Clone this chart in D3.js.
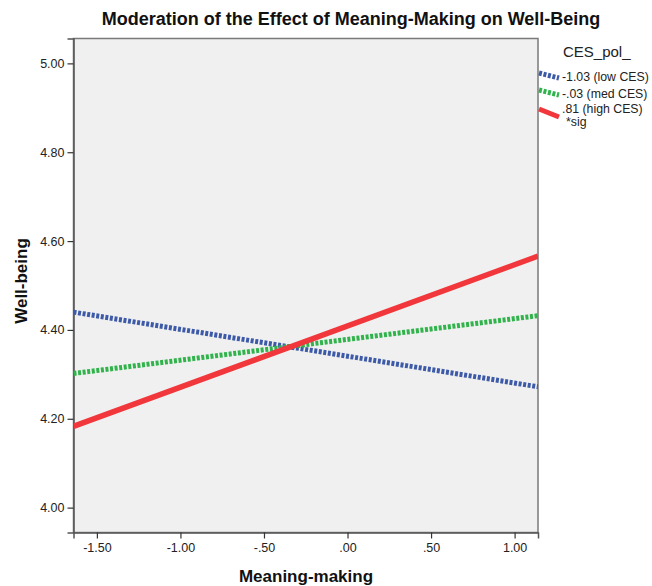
<!DOCTYPE html>
<html><head><meta charset="utf-8">
<script src="https://cdn.jsdelivr.net/npm/d3@7"></script>
<style>body{margin:0;background:#fff;font-family:"Liberation Sans",Arial,sans-serif;}</style>
</head><body>
<svg id="c" width="652" height="586"></svg>
<script>
const seriesNames = ["-1.03 (low CES)", "-.03 (med CES)", ".81 (high CES)"];
const xRange = [-1.64, 1.14];
const lowCES = [4.44, 4.272];
const medCES = [4.302, 4.432];
const highCES = [4.183, 4.566];
const xTicks = [-1.5, -1.0, -0.5, 0, 0.5, 1.0];
const yTicks = [4.0, 4.2, 4.4, 4.6, 4.8, 5.0];
const colors = ["#3d5aa8", "#2fb34a", "#f1373b"];
const dashes = ["3,1.6", "3,1.6", null];

const svg = d3.select("#c");
const L = 73.5, R = 538, T = 38.5, B = 532.5;
const x = d3.scaleLinear().domain([-1.64, 1.14]).range([L, R]);
const y = d3.scaleLinear().domain([3.944, 5.056]).range([B, T]);

svg.append("rect").attr("x", L).attr("y", T).attr("width", R - L).attr("height", B - T)
  .attr("fill", "#f0f0f0").attr("stroke", "#7a7a7a").attr("stroke-width", 1.5);

const fmt = v => { let s = Math.abs(v).toFixed(2); if (s.startsWith("0")) s = s.slice(1); return (v < 0 ? "-" : "") + s; };

const xa = svg.append("g").attr("transform", `translate(0,${B})`)
  .call(d3.axisBottom(x).tickValues(xTicks).tickFormat(fmt).tickSize(6).tickPadding(5));
const ya = svg.append("g").attr("transform", `translate(${L},0)`)
  .call(d3.axisLeft(y).tickValues(yTicks).tickFormat(fmt).tickSize(6).tickPadding(3));
[xa, ya].forEach(a => {
  a.select(".domain").attr("stroke", "#555").attr("stroke-width", 1.5);
  a.selectAll(".tick line").attr("stroke", "#333").attr("stroke-width", 1.2);
  a.selectAll(".tick text").attr("fill", "#222").style("font-size", "12.5px").style("font-family", "Liberation Sans, Arial, sans-serif");
});

const data = [lowCES, medCES, highCES];
svg.append("clipPath").attr("id", "pc").append("rect")
  .attr("x", L).attr("y", T).attr("width", R - L).attr("height", B - T);
const line = d3.line().x(d => x(d[0])).y(d => y(d[1]));
const g = svg.append("g").attr("clip-path", "url(#pc)");
data.forEach((vals, i) => {
  const pts = xRange.map((xv, j) => [xv, vals[j]]);
  g.append("path").attr("d", line(pts)).attr("fill", "none")
    .attr("stroke", colors[i]).attr("stroke-width", i === 2 ? 5.5 : 5)
    .attr("stroke-dasharray", dashes[i]);
});

// legend
svg.append("text").attr("x", 563).attr("y", 57).text("CES_pol_")
  .style("font-size", "15px").attr("fill", "#222");
const legY = [73, 90, 109];
const labY = [81, 98, 113];
seriesNames.forEach((n, i) => {
  svg.append("line").attr("x1", 539).attr("y1", legY[i]).attr("x2", 559).attr("y2", legY[i] + (i === 2 ? 8 : 5))
    .attr("stroke", colors[i]).attr("stroke-width", 5).attr("stroke-dasharray", dashes[i]);
  svg.append("text").attr("x", 562).attr("y", labY[i]).text(n)
    .style("font-size", "12.3px").attr("fill", "#222");
});
svg.append("text").attr("x", 566).attr("y", 126).text("*sig").style("font-size", "12.3px").attr("fill", "#222");

svg.append("text").attr("x", 351).attr("y", 25).attr("text-anchor", "middle")
  .text("Moderation of the Effect of Meaning-Making on Well-Being")
  .style("font-size", "18px").style("font-weight", "bold").attr("fill", "#111");
svg.append("text").attr("x", 306).attr("y", 582).attr("text-anchor", "middle")
  .text("Meaning-making").style("font-size", "17px").style("font-weight", "bold").attr("fill", "#111");
svg.append("text").attr("transform", "translate(27,281) rotate(-90)").attr("text-anchor", "middle")
  .text("Well-being").style("font-size", "17px").style("font-weight", "bold").attr("fill", "#111");
</script>
</body></html>
